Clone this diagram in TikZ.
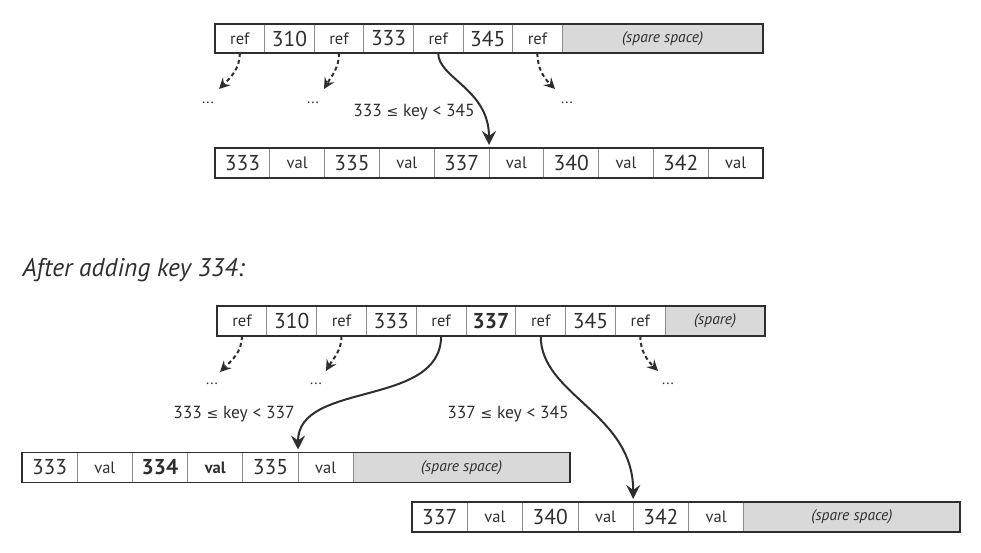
\documentclass[tikz,border=0pt]{standalone}
\usepackage{fontspec}
\setmainfont{PT Sans}
\newfontfamily\symfont{DejaVu Sans}
\usetikzlibrary{arrows.meta,positioning}
\definecolor{inkgray}{HTML}{2E2E2E}
\definecolor{rulegray}{HTML}{8C8C8C}
\definecolor{sparegray}{HTML}{D9D9D9}
\newcommand{\refw}{{\fontsize{16.5}{16.5}\selectfont ref}}
\newcommand{\valw}{{\fontsize{16.5}{16.5}\selectfont val}}
\newcommand{\lesseq}{{\symfont\fontsize{14}{14}\selectfont ≤}}
\tikzset{
  cell/.style={draw=rulegray, line width=0.7pt, inner sep=0pt, outer sep=0pt,
    minimum height=29pt, text=inkgray, font=\fontsize{21.5}{21.5}\selectfont},
  spare/.style={cell, fill=sparegray, font=\fontsize{15.5}{15.5}\selectfont\itshape},
  frame/.style={draw=inkgray, line width=1.4pt},
  keyarrow/.style={draw=inkgray, line width=2pt, shorten >=3pt,
    -{Stealth[length=14pt,width=14pt,inset=5pt]}},
  morearrow/.style={draw=inkgray, line width=2pt, dash pattern=on 4pt off 3pt,
    -{Stealth[length=11pt,width=11pt,inset=4pt]}},
  dotsnode/.style={text=inkgray, font=\fontsize{15}{15}\selectfont},
  rangelabel/.style={text=inkgray, font=\fontsize{17.5}{17.5}\selectfont},
}
\begin{document}
\begin{tikzpicture}[x=1pt, y=-1pt]
    \useasboundingbox (0,0) rectangle (981,553);

    % before: internal page and leaf page
    \foreach \t [count=\i] in {\refw,310,\refw,333,\refw,345,\refw}
        \node[cell, minimum width=49.6pt, anchor=west] (a\i) at ({215+(\i-1)*49.6},38.5) {\t};
    \node[spare, minimum width=200.8pt, right=0pt of a7] (a8) {(spare space)};
    \draw[frame] (a1.north west) rectangle (a8.south east);

    \foreach \t [count=\i] in {333,\valw,335,\valw,337,\valw,340,\valw,342,\valw}
        \node[cell, minimum width=54.8pt, minimum height=30pt, anchor=west] (l\i) at ({215+(\i-1)*54.8},163) {\t};
    \draw[frame] (l1.north west) rectangle (l10.south east);

    \coordinate (ta1) at (219,89);
    \coordinate (ta2) at (324,89);
    \coordinate (ta3) at (555,89);
    \node[dotsnode] (da1) at (208,103) {...};
    \node[dotsnode] (da2) at (313,103) {...};
    \node[dotsnode] (da3) at (567,103) {...};
    \draw[morearrow] (a1.south) to[out=-90, in=45] (ta1);
    \draw[morearrow] (a3.south) to[out=-90, in=60] (ta2);
    \draw[morearrow] (a7.south) to[out=-90, in=135] (ta3);
    \draw[keyarrow] (a5.south) to[out=-90, in=90, out looseness=0.6, in looseness=1.4] (l5.north east);
    \node[rangelabel] (ra) at (414,112) {333 \lesseq{} key < 345};

    % after adding key 334
    \node[anchor=west, text=inkgray, font=\fontsize{25.5}{25.5}\selectfont\itshape] (title) at (19,270) {After adding key 334:};

    \foreach \t [count=\i] in {\refw,310,\refw,333,\refw,{\textbf{337}},\refw,345,\refw}
        \node[cell, minimum width=49.8pt, minimum height=30pt, anchor=west] (b\i) at ({217+(\i-1)*49.8},321) {\t};
    \node[spare, minimum width=99.8pt, minimum height=30pt, right=0pt of b9] (b10) {(spare)};
    \draw[frame] (b1.north west) rectangle (b10.south east);

    \foreach \t [count=\i] in {333,\valw,{\textbf{334}},{\bfseries\valw},335,\valw}
        \node[cell, minimum width=55.2pt, minimum height=30pt, anchor=west] (c\i) at ({22+(\i-1)*55.2},467.5) {\t};
    \node[spare, minimum width=216.8pt, minimum height=30pt, right=0pt of c6] (c7) {(spare space)};
    \draw[frame] (c1.north west) rectangle (c7.south east);

    \foreach \t [count=\i] in {337,\valw,340,\valw,342,\valw}
        \node[cell, minimum width=55.3pt, minimum height=30pt, anchor=west] (e\i) at ({412+(\i-1)*55.3},517) {\t};
    \node[spare, minimum width=216.2pt, minimum height=30pt, right=0pt of e6] (e7) {(spare space)};
    \draw[frame] (e1.north west) rectangle (e7.south east);

    \coordinate (tb1) at (220,372);
    \coordinate (tb2) at (326,371);
    \coordinate (tb3) at (658,371);
    \node[dotsnode] (db1) at (212,384) {...};
    \node[dotsnode] (db2) at (316,384) {...};
    \node[dotsnode] (db3) at (668,384) {...};
    \draw[morearrow] (b1.south) to[out=-90, in=45] (tb1);
    \draw[morearrow] (b3.south) to[out=-90, in=60] (tb2);
    \draw[morearrow] (b9.south) to[out=-90, in=135] (tb3);
    \draw[keyarrow] (b5.south) to[out=-90, in=90] (c5.north east);
    \draw[keyarrow] (b7.south) to[out=-90, in=90, out looseness=0.8, in looseness=1.2] (e4.north east);
    \node[rangelabel] (rb1) at (234,414) {333 \lesseq{} key < 337};
    \node[rangelabel] (rb2) at (508,414) {337 \lesseq{} key < 345};
\end{tikzpicture}
\end{document}
